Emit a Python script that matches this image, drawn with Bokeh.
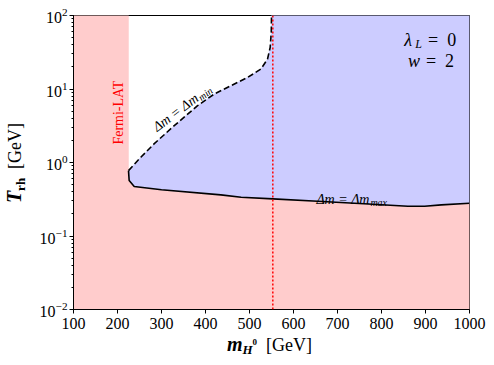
import math
from bokeh.plotting import figure
from bokeh.models import Range1d, Label, Span, FixedTicker, LogTicker, Div
from bokeh.layouts import row, column
from bokeh.embed import file_html
from bokeh.resources import INLINE

# ---------------- data ----------------
fermi_lat_limit = 225.0          # GeV, Fermi-LAT exclusion edge
dotted_mass = 553.0              # GeV, red dotted vertical line
x_min_plot, x_max_plot = 100, 1000
y_min_plot, y_max_plot = 0.01, 100

# Delta m = Delta m_max (solid curve)
dm_max_x = [225, 226.5, 238, 300, 435, 481, 553, 655, 760, 860, 898, 936, 1000]
dm_max_y = [0.776, 0.568, 0.471, 0.425, 0.363, 0.337, 0.320, 0.297, 0.275, 0.254, 0.254, 0.265, 0.279]

# Delta m = Delta m_min (dashed curve)
dm_min_x = [225, 253, 283, 329, 382, 420, 458, 496, 526, 541, 547, 549.5, 550]
dm_min_y = [0.776, 1.18, 1.79, 3.17, 5.93, 8.55, 11.1, 14.4, 18.7, 25.6, 36.7, 60, 100]

x_ticks = [100, 200, 300, 400, 500, 600, 700, 800, 900, 1000]

PINK = "#ffcccc"
BLUE = "#ccccff"
FONT = "Liberation Serif"

YLAB_W = 26
FIG_W, FIG_H = 466, 339

p = figure(width=FIG_W, height=FIG_H,
           x_range=Range1d(x_min_plot, x_max_plot),
           y_range=Range1d(y_min_plot, y_max_plot),
           y_axis_type="log", output_backend="svg", toolbar_location=None,
           min_border_left=47, min_border_right=23, min_border_top=15, min_border_bottom=30)

p.background_fill_color = "white"
p.border_fill_color = "white"
p.outline_line_color = "black"
p.outline_line_width = 1
p.xgrid.visible = False
p.ygrid.visible = False

# pink excluded region: Fermi-LAT band + everything below dm_max curve
pink_x = [x_min_plot, x_min_plot, fermi_lat_limit] + dm_max_x + [x_max_plot]
pink_y = [y_min_plot, y_max_plot, y_max_plot] + dm_max_y + [y_min_plot]
p.patch(pink_x, pink_y, fill_color=PINK, line_color=PINK, line_width=0.5)

# blue allowed region between dm_max and dm_min (open to the top at right)
blue_x = dm_max_x + [x_max_plot] + dm_min_x[::-1]
blue_y = dm_max_y + [y_max_plot] + dm_min_y[::-1]
p.patch(blue_x, blue_y, fill_color=BLUE, line_color=BLUE, line_width=0.5)

p.line(dm_max_x, dm_max_y, line_color="black", line_width=1.6)
p.line(dm_min_x, dm_min_y, line_color="black", line_width=1.6, line_dash="6 3")

p.add_layout(Span(location=dotted_mass, dimension="height", line_color="red",
                  line_width=1.5, line_dash="2 2"))

# axes
p.xaxis.ticker = FixedTicker(ticks=x_ticks, minor_ticks=[])
p.yaxis.ticker = LogTicker(num_minor_ticks=10)
for ax in (p.xaxis[0], p.yaxis[0]):
    ax.major_label_text_font = FONT
    ax.major_label_text_font_size = "16px"
    ax.major_label_text_color = "black"
    ax.axis_line_color = "black"
    ax.major_tick_line_color = "black"
    ax.minor_tick_line_color = "black"
    ax.major_tick_in = 0
    ax.major_tick_out = 4
    ax.minor_tick_in = 0
    ax.minor_tick_out = 2
    ax.axis_label = None
p.xaxis.major_label_standoff = 4
p.yaxis.major_label_standoff = 2


def lab(text, x, y, size, style="normal", color="black", angle=0.0, align="left",
        baseline="alphabetic", xo=0, yo=0):
    p.add_layout(Label(x=x, y=y, text=text, text_font=FONT,
                       text_font_size=f"{size}px", text_font_style=style,
                       text_color=color, angle=angle, text_align=align,
                       text_baseline=baseline, x_offset=xo, y_offset=yo))


rot = math.pi / 2
# Fermi-LAT
lab("Fermi-LAT", 202, 4.76, 14, color="red", angle=rot, align="center", baseline="middle")

# Delta m = Delta m_min along dashed curve
th = math.radians(37)
ax0, ay0 = -4, 5
lab("Δm = Δm", 293, 2.48, 14, "italic", angle=th, xo=ax0, yo=ay0)
w, d = 54, 3
lab("min", 293, 2.48, 10, "italic", angle=th,
    xo=ax0 + w * math.cos(th) + d * math.sin(th), yo=ay0 + w * math.sin(th) - d * math.cos(th))

# Delta m = Delta m_max
lab("Δm = Δm", 652, 0.314, 14, "italic")
lab("max", 652, 0.314, 10, "italic", xo=54, yo=-3)

# parameters
lab("=\u20020", 969.7, 45.7, 18, align="right")
lab("λ", 969.7, 45.7, 18, "italic", xo=-52)
lab("L", 969.7, 45.7, 12, "italic", xo=-41, yo=-4)
lab("=\u20022", 965, 24.4, 18, align="right")
lab("w", 965, 24.4, 18, "italic", xo=-46)

# axis titles as real HTML text (outside the plot frame)
ff = "font-family:'Liberation Serif',serif; color:black; white-space:nowrap;"
xlab_html = (
    f'<div style="{ff} width:{FIG_W}px; box-sizing:border-box; padding-left:21px; '
    'text-align:center; font-size:18px; line-height:10px;">'
    '<b><i style="font-size:20px">m</i>'
    '<span style="position:relative; top:3px; font-size:13px"><i>H</i>'
    '<span style="position:relative; top:-9px; font-size:9px">0</span></span></b>'
    '&nbsp;&nbsp;[GeV]</div>'
)
xlab = Div(text=xlab_html, width=FIG_W, height=20, margin=0)

ylab_html = (
    f'<div style="{ff} width:{FIG_H}px; height:{YLAB_W}px; box-sizing:border-box; '
    'padding-left:13px; padding-top:2px; text-align:center; font-size:18px; line-height:24px; '
    f'transform-origin:0 0; transform:translate(0px,{FIG_H}px) rotate(-90deg);">'
    '<b><i style="font-size:20px">T</i>'
    '<span style="position:relative; top:4px; font-size:13px">rh</span></b>'
    '&nbsp;&nbsp;[GeV]</div>'
)
ylab = Div(text=ylab_html, width=YLAB_W, height=FIG_H, margin=0)

layout = row(ylab, column(p, xlab, spacing=0), spacing=0)

open("out.html", "w").write(file_html(layout, INLINE))
